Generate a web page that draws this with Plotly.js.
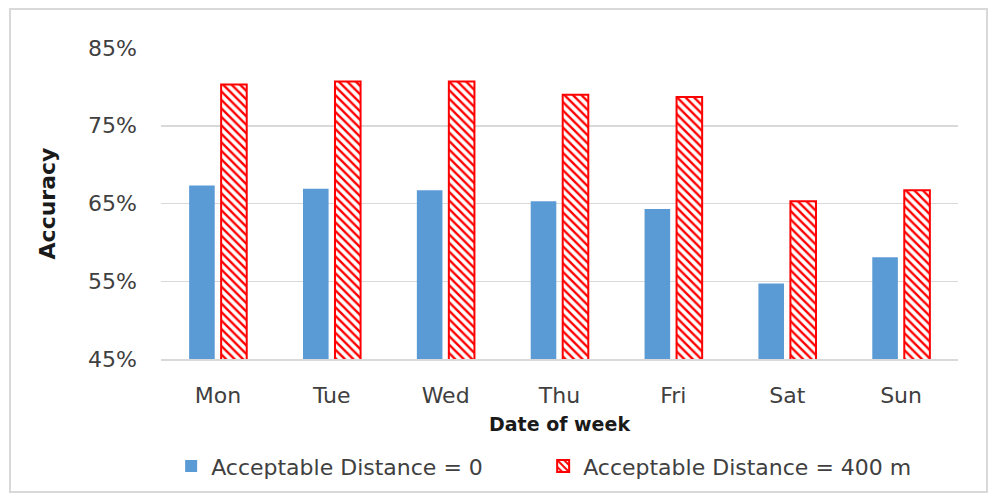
<!DOCTYPE html>
<html>
<head>
<meta charset="utf-8">
<script src="https://cdn.plot.ly/plotly-3.0.1.min.js"></script>
<style>
html,body{margin:0;padding:0;background:#fff;}
#wrap{position:relative;width:995px;height:497px;}
#chart{width:995px;height:497px;}
#frame{position:absolute;left:9px;top:8px;width:975px;height:481px;border:2px solid #d9d9d9;pointer-events:none;}
</style>
</head>
<body>
<div id="wrap"><div id="chart"></div><div id="frame"></div></div>
<script>
const days = ["Mon","Tue","Wed","Thu","Fri","Sat","Sun"];
const seriesNames = ["Acceptable Distance = 0","Acceptable Distance = 400 m"];
const dist0 = [67.3, 66.9, 66.7, 65.3, 64.3, 54.7, 58.1];
const dist400 = [80.3, 80.7, 80.7, 79.0, 78.7, 65.3, 66.7];
const yTicks = [45, 55, 65, 75, 85];
const yTickText = ["45%", "55%", "65%", "75%", "85%"];

const FONT = "DejaVu Sans, Liberation Sans, Arial, sans-serif";

const traces = [
  {type:"bar", x:days, y:dist0, name:seriesNames[0],
   marker:{color:"#5b9bd5", line:{width:0}}},
  {type:"bar", x:days, y:dist400, name:seriesNames[1],
   marker:{color:"#ffffff", line:{color:"#ff0000", width:2},
     pattern:{shape:"\\", fgcolor:"#ff0000", bgcolor:"#ffffff", size:6, solidity:0.4}}}
];

const layout = {
  width:995, height:497,
  margin:{l:161, r:37, t:48, b:138},
  paper_bgcolor:"#ffffff", plot_bgcolor:"#ffffff",
  font:{family:FONT, size:22, color:"#404040"},
  barmode:"group", bargap:0.438, bargroupgap:0.2,
  showlegend:true,
  legend:{orientation:"h", xref:"container", yref:"container", x:0.172, xanchor:"left",
    y:0.062, yanchor:"middle", font:{family:FONT, size:22, color:"#404040"},
    itemwidth:30, entrywidth:327, entrywidthmode:"pixels", traceorder:"normal"},
  xaxis:{showgrid:false, showline:true, linecolor:"#d9d9d9", linewidth:1.5, automargin:false,
    ticks:"", ticklabelstandoff:16, tickfont:{family:FONT, size:22, color:"#404040"},
    title:{text:"<b>Date of week</b>", font:{family:FONT, size:19, color:"#1a1a1a"}, standoff:11}},
  yaxis:{range:[45,85], tickvals:yTicks, ticktext:yTickText, showgrid:true, gridcolor:"#d9d9d9",
    gridwidth:1.5, zeroline:false, showline:false, ticks:"", automargin:false,
    ticklabelstandoff:23, tickfont:{family:FONT, size:22, color:"#404040"},
    title:{text:"<b>Accuracy</b>", font:{family:FONT, size:22, color:"#1a1a1a"}, standoff:26}}
};

Plotly.newPlot("chart", traces, layout, {displayModeBar:false, staticPlot:true});
</script>
</body>
</html>
